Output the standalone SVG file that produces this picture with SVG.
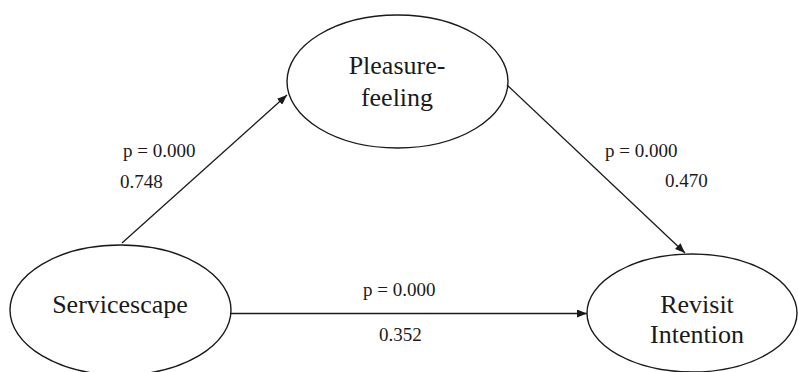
<svg xmlns="http://www.w3.org/2000/svg" width="798" height="372" viewBox="0 0 798 372">
<style>
.node{fill:#fff;stroke:#1a1a1a;stroke-width:1.4}
.nt{font-family:"Liberation Serif","Times New Roman",serif;font-size:26px;fill:#1a1a1a;text-anchor:middle}
.lb{font-family:"Liberation Serif","Times New Roman",serif;font-size:19px;fill:#1a1a1a}
.edge{stroke:#1a1a1a;stroke-width:1.3;fill:none;marker-end:url(#ah)}
</style>
<defs>
<marker id="ah" viewBox="0 0 10 8" refX="10" refY="4" markerWidth="10" markerHeight="8" markerUnits="userSpaceOnUse" orient="auto">
<path d="M0,0 L10,4 L0,8 Z" fill="#1a1a1a"/>
</marker>
</defs>
<rect width="798" height="372" fill="#fff"/>
<g id="pleasure">
<ellipse class="node" cx="397.5" cy="81.5" rx="110.5" ry="66.5"/>
<text class="nt" x="397" y="74">Pleasure-</text>
<text class="nt" x="397" y="106">feeling</text>
</g>
<g id="servicescape">
<ellipse class="node" cx="120.5" cy="310" rx="110.5" ry="65"/>
<text class="nt" x="120" y="313">Servicescape</text>
</g>
<g id="revisit">
<ellipse class="node" cx="692" cy="313" rx="105" ry="59"/>
<text class="nt" x="697" y="313">Revisit</text>
<text class="nt" x="697" y="343">Intention</text>
</g>
<g id="connectors">
<line class="edge" x1="122" y1="243" x2="287" y2="95"/>
<line class="edge" x1="507" y1="85" x2="685" y2="253"/>
<line class="edge" x1="231" y1="313.5" x2="587" y2="313.5"/>
<text class="lb" x="123" y="157">p = 0.000</text>
<text class="lb" x="120" y="188">0.748</text>
<text class="lb" x="605" y="157">p = 0.000</text>
<text class="lb" x="665" y="187">0.470</text>
<text class="lb" x="363" y="296">p = 0.000</text>
<text class="lb" x="379" y="341">0.352</text>
</g>
</svg>
